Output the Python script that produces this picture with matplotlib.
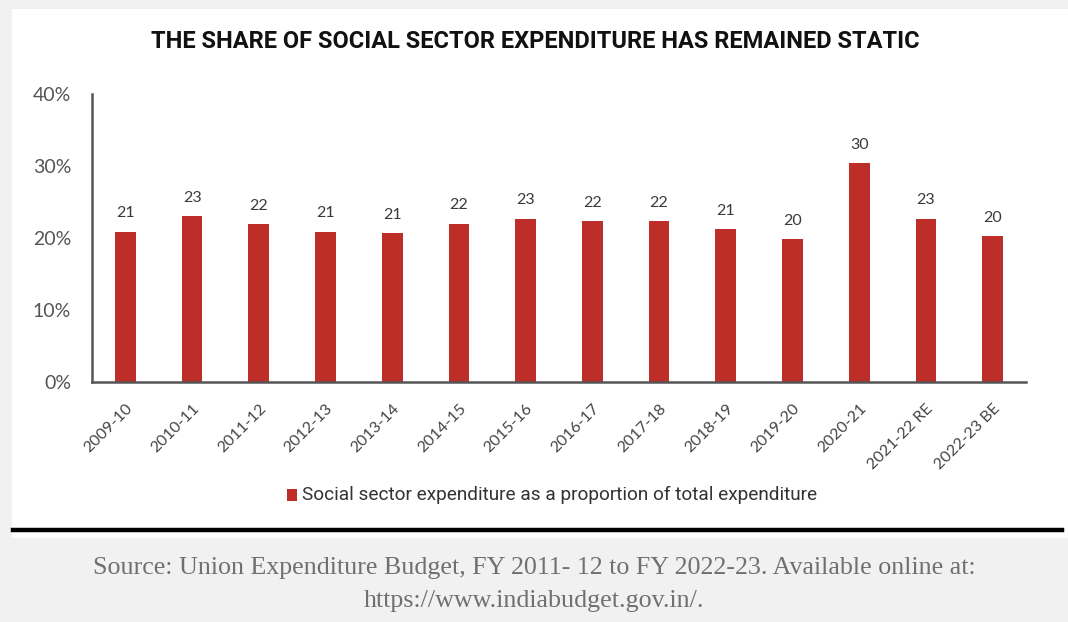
import matplotlib
matplotlib.use("Agg")
import matplotlib.pyplot as plt
from matplotlib import font_manager
from matplotlib.patches import Rectangle
from matplotlib.lines import Line2D

# data
years = ["2009-10", "2010-11", "2011-12", "2012-13", "2013-14", "2014-15", "2015-16",
         "2016-17", "2017-18", "2018-19", "2019-20", "2020-21", "2021-22 RE", "2022-23 BE"]
share = [20.9, 23.0, 21.9, 20.9, 20.7, 22.0, 22.7, 22.3, 22.4, 21.3, 19.9, 30.4, 22.7, 20.3]
bar_labels = [21, 23, 22, 21, 21, 22, 23, 22, 22, 21, 20, 30, 23, 20]
y_ticks = [0, 10, 20, 30, 40]

title = "THE SHARE OF SOCIAL SECTOR EXPENDITURE HAS REMAINED STATIC"
legend_text = "Social sector expenditure as a proportion of total expenditure"
source_lines = ["Source: Union Expenditure Budget, FY 2011- 12 to FY 2022-23. Available online at:",
                "https://www.indiabudget.gov.in/."]

names = {f.name for f in font_manager.fontManager.ttflist}
narrow = "Roboto" if "Roboto" in names else "DejaVu Sans"
body = "Lato" if "Lato" in names else "DejaVu Sans"
serif = "Liberation Serif" if "Liberation Serif" in names else "DejaVu Serif"

BAR = "#be2e29"
W, H = 1068, 622

fig = plt.figure(figsize=(W / 100, H / 100), dpi=100)
fig.patch.set_facecolor("#f1f1f1")

# white panel behind the chart
fig.patches.append(Rectangle((12 / W, 1 - 538 / H), 1 - 12 / W, (538 - 9) / H,
                             transform=fig.transFigure, facecolor="white",
                             edgecolor="none", zorder=-5))

ax = fig.add_axes([92 / W, 1 - 382 / H, (1026 - 92) / W, (382 - 94) / H])
ax.set_facecolor("none")
x = range(len(years))
bars = ax.bar(x, share, width=0.31, color=BAR, zorder=2)
for b, lab in zip(bars, bar_labels):
    ax.annotate(str(lab), (b.get_x() + b.get_width() / 2, b.get_height()),
                xytext=(0, 8), textcoords="offset points", ha="center", va="bottom",
                fontsize=11.5, color="#3a3a3a", family=body)

ax.set_xlim(-0.5, len(years) - 0.5)
ax.set_ylim(0, 40)
ax.set_yticks(y_ticks)
ax.set_yticklabels([f"{v}%" for v in y_ticks], fontsize=14, color="#555555", family=body)
ax.set_xticks(list(x))
ax.set_xticklabels(years, rotation=45, ha="right", rotation_mode="anchor",
                   fontsize=11.5, color="#444444", family=body)
ax.tick_params(axis="both", length=0)
ax.tick_params(axis="y", pad=15)
ax.tick_params(axis="x", pad=14)
for s in ["top", "right"]:
    ax.spines[s].set_visible(False)
for s in ["left", "bottom"]:
    ax.spines[s].set_color("#555555")
    ax.spines[s].set_linewidth(1.8)

fig.text(535 / W, 1 - 42 / H, title, ha="center", va="center", fontsize=17,
         fontweight="bold", color="#111111", family=narrow)

# legend
fig.patches.append(Rectangle((287 / W, 1 - 501 / H), 10 / W, 12 / H,
                             transform=fig.transFigure, facecolor=BAR, edgecolor="none"))
fig.text(302 / W, 1 - 495 / H, legend_text, ha="left", va="center", fontsize=13.7,
         color="#333333", family=narrow)

# thick rule
fig.lines.append(Line2D([13 / W, 1062 / W], [1 - 530 / H, 1 - 530 / H],
                        transform=fig.transFigure, color="black", linewidth=3.2))

fig.text(534 / W, 1 - 568 / H, source_lines[0], ha="center", va="center", fontsize=18.7,
         color="#707070", family=serif)
fig.text(534 / W, 1 - 601 / H, source_lines[1], ha="center", va="center", fontsize=18.7,
         color="#707070", family=serif)

fig.savefig("out.png", dpi=100, facecolor=fig.get_facecolor())
